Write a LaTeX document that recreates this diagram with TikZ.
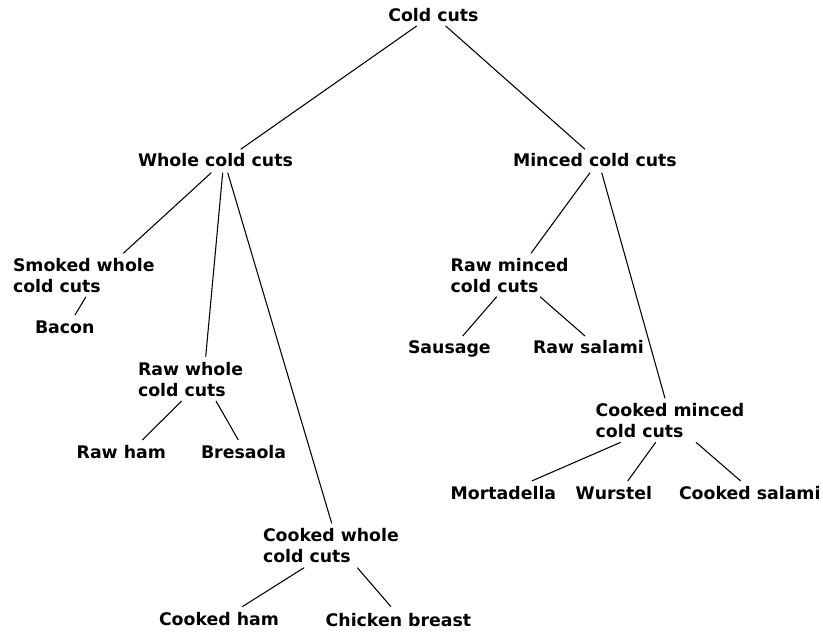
\documentclass[tikz,border=0pt]{standalone}
\usepackage{fontspec}
\setmainfont{DejaVu Sans}
\begin{document}
\begin{tikzpicture}[x=0.75pt,y=-0.75pt,
  lbl/.style={anchor=base west, inner sep=0pt, outer sep=0pt, align=left,
    font=\fontsize{13}{15.75}\selectfont\bfseries},
  edge/.style={line width=0.8pt}]
\path[use as bounding box] (0,0) rectangle (823,631);
\node[lbl] (cc) at (388.3,21.7) {Cold cuts};
\node[lbl] (wcc) at (138,166.7) {Whole cold cuts};
\node[lbl] (mcc) at (513,166.7) {Minced cold cuts};
\node[lbl] (smk) at (13,292.7) {Smoked whole\\cold cuts};
\node[lbl] (bacon) at (35,333) {Bacon};
\node[lbl] (rwc) at (138,396.7) {Raw whole\\cold cuts};
\node[lbl] (rham) at (76.7,458) {Raw ham};
\node[lbl] (bres) at (201,458) {Bresaola};
\node[lbl] (cwc) at (263,562) {Cooked whole\\cold cuts};
\node[lbl] (cham) at (159,625.7) {Cooked ham};
\node[lbl] (chick) at (325.7,626) {Chicken breast};
\node[lbl] (rmc) at (450.7,292.7) {Raw minced\\cold cuts};
\node[lbl] (saus) at (408,353) {Sausage};
\node[lbl] (rsal) at (533,353) {Raw salami};
\node[lbl] (cmc) at (595.7,437) {Cooked minced\\cold cuts};
\node[lbl] (mort) at (450.7,499) {Mortadella};
\node[lbl] (wur) at (575.7,499) {Wurstel};
\node[lbl] (csal) at (679,499) {Cooked salami};
\begin{scope}[edge]
\draw ([shift={(28.4,4.3)}]cc.base west) -- ([shift={(102.7,-17.4)}]wcc.base west);
\draw ([shift={(57.4,4.3)}]cc.base west) -- ([shift={(72,-17.4)}]mcc.base west);
\draw ([shift={(73.3,6)}]wcc.base west) -- ([shift={(110.3,-39.4)}]smk.base west);
\draw ([shift={(84.7,6)}]wcc.base west) -- ([shift={(67.7,-40)}]rwc.base west);
\draw ([shift={(89.7,6)}]wcc.base west) -- ([shift={(68.7,-38.7)}]cwc.base west);
\draw ([shift={(73,4)}]smk.base west) -- ([shift={(40,-18)}]bacon.base west);
\draw ([shift={(43.7,4.3)}]rwc.base west) -- ([shift={(65.6,-18)}]rham.base west);
\draw ([shift={(78,4.3)}]rwc.base west) -- ([shift={(37.3,-18)}]bres.base west);
\draw ([shift={(41,5.7)}]cwc.base west) -- ([shift={(83.3,-19)}]cham.base west);
\draw ([shift={(94.3,5.7)}]cwc.base west) -- ([shift={(65.3,-19.3)}]chick.base west);
\draw ([shift={(77,6)}]mcc.base west) -- ([shift={(80.3,-39.4)}]rmc.base west);
\draw ([shift={(88.7,6)}]mcc.base west) -- ([shift={(69.3,-38.7)}]cmc.base west);
\draw ([shift={(46,4)}]rmc.base west) -- ([shift={(54.7,-17)}]saus.base west);
\draw ([shift={(89.3,4)}]rmc.base west) -- ([shift={(52,-17)}]rsal.base west);
\draw ([shift={(25,5.3)}]cmc.base west) -- ([shift={(81,-18)}]mort.base west);
\draw ([shift={(60,5.3)}]cmc.base west) -- ([shift={(52,-18)}]wur.base west);
\draw ([shift={(100.3,5.3)}]cmc.base west) -- ([shift={(61.7,-18)}]csal.base west);
\end{scope}
\end{tikzpicture}
\end{document}
